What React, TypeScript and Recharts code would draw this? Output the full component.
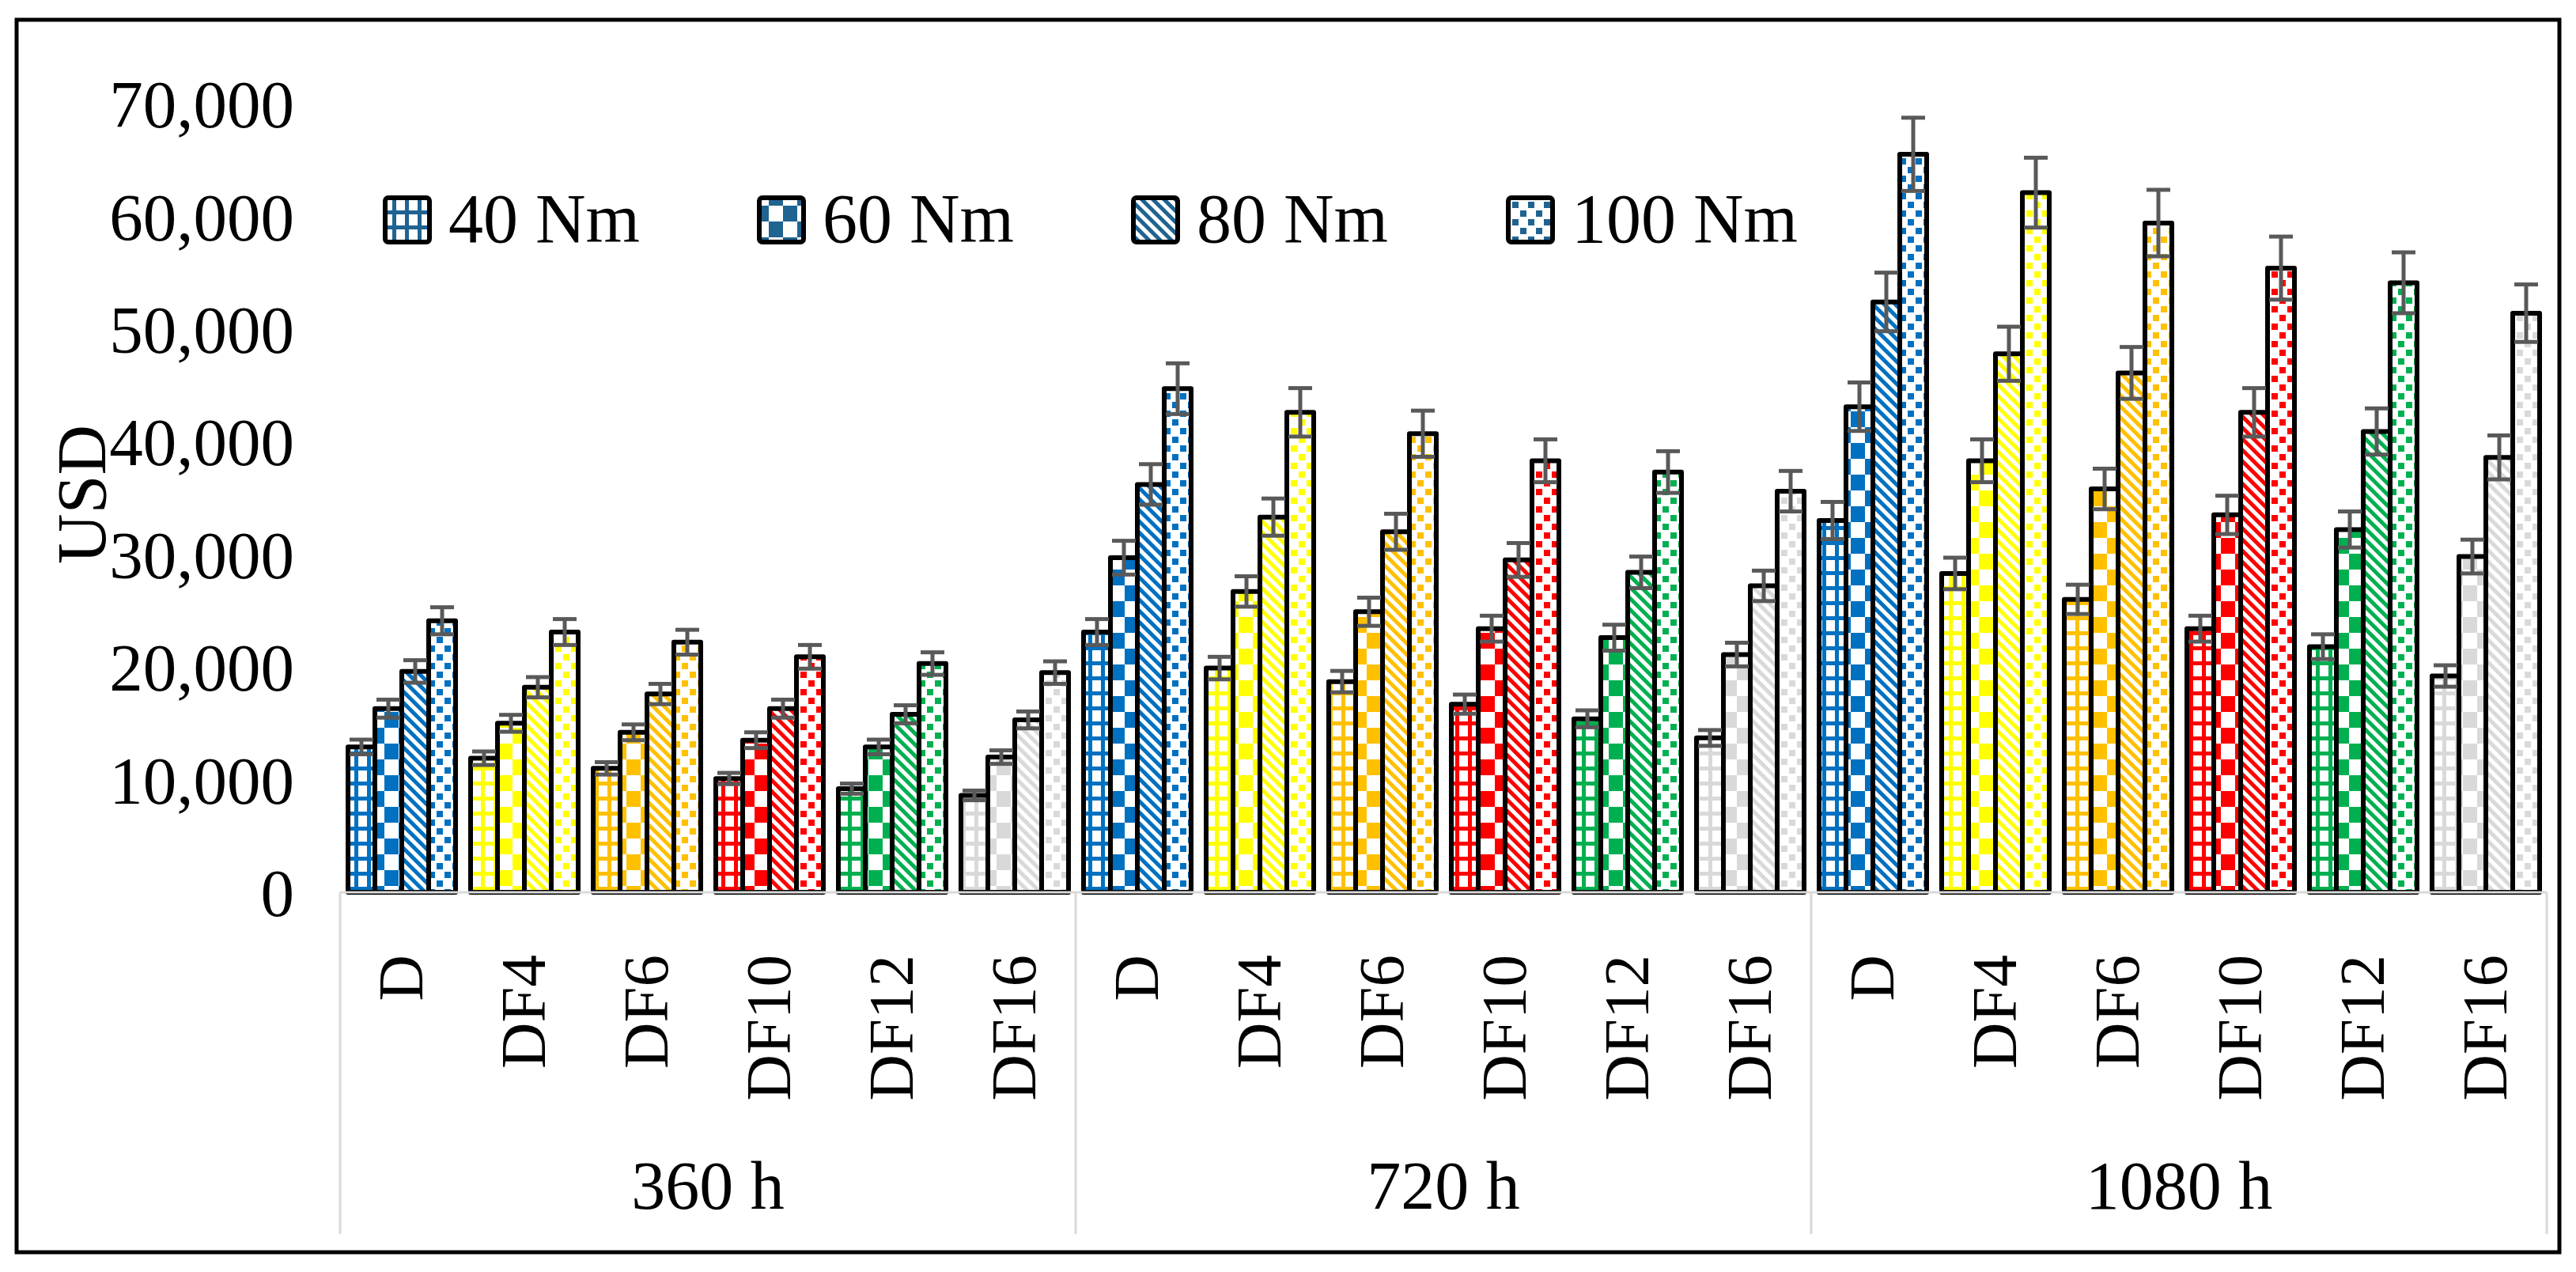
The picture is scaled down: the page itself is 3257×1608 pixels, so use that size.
import React from 'react';
import { BarChart, Bar, XAxis, YAxis, ErrorBar, Cell } from 'recharts';

const FONT = '"Liberation Serif", "Times New Roman", serif';
const W = 3257;
const H = 1608;

const GROUPS = ['360 h', '720 h', '1080 h'];
const MIXES = ['D', 'DF4', 'DF6', 'DF10', 'DF12', 'DF16'];
const MIX_COLORS = ['#0070C0', '#FFFF00', '#FFC000', '#FF0000', '#00B050', '#D9D9D9'];
const SERIES = ['40 Nm', '60 Nm', '80 Nm', '100 Nm'];
const SERIES_KEYS = ['v40', 'v60', 'v80', 'v100'];
const PATTERNS = ['grid', 'checker', 'diag', 'dots'];
const LEGEND_COLOR = '#1F6391';
const Y_TICKS = [0, 10000, 20000, 30000, 40000, 50000, 60000, 70000];

// values, 18 bars per series (360 h, 720 h, 1080 h x 6 mixes)
const V40 = [12900, 11900, 11000, 10100, 9200, 8600, 23100, 19900, 18700, 16700, 15400, 13700, 33000, 28300, 26000, 23400, 21800, 19200];
const V60 = [16300, 15000, 14200, 13500, 12900, 12000, 29700, 26700, 24900, 23400, 22600, 21100, 43100, 38300, 35800, 33500, 32200, 29800];
const V80 = [19600, 18200, 17600, 16300, 15800, 15300, 36200, 33300, 32000, 29500, 28400, 27200, 52400, 47800, 46100, 42600, 40900, 38600];
const V100 = [24100, 23100, 22200, 20900, 20300, 19500, 44700, 42600, 40700, 38300, 37300, 35600, 65500, 62100, 59400, 55400, 54100, 51400];

const E40 = [650, 600, 550, 500, 450, 430, 1150, 1000, 950, 850, 750, 700, 1650, 1400, 1300, 1150, 1100, 950];
const E60 = [800, 750, 700, 700, 650, 600, 1500, 1350, 1250, 1150, 1150, 1050, 2150, 1900, 1800, 1700, 1600, 1500];
const E80 = [1000, 900, 900, 800, 800, 750, 1800, 1650, 1600, 1500, 1400, 1350, 2600, 2400, 2300, 2150, 2050, 1950];
const E100 = [1200, 1150, 1100, 1050, 1000, 1000, 2250, 2150, 2050, 1900, 1850, 1800, 3250, 3100, 2950, 2800, 2700, 2550];

const rows = GROUPS.flatMap((group, g) =>
  MIXES.map((mix, m) => {
    const i = g * MIXES.length + m;
    return {
      id: `${group}-${mix}`,
      group,
      mix,
      colorIdx: m,
      v40: V40[i],
      v60: V60[i],
      v80: V80[i],
      v100: V100[i],
      e40: E40[i],
      e60: E60[i],
      e80: E80[i],
      e100: E100[i],
    };
  })
);

function patternDef(kind: string, color: string, id: string) {
  if (kind === 'grid') {
    return (
      <pattern key={id} id={id} width={16} height={19} patternUnits="userSpaceOnUse">
        <rect width={16} height={19} fill="#fff" />
        <rect x={0} y={0} width={16} height={5} fill={color} />
        <rect x={0} y={0} width={5} height={19} fill={color} />
      </pattern>
    );
  }
  if (kind === 'checker') {
    return (
      <pattern key={id} id={id} width={36} height={40} patternUnits="userSpaceOnUse">
        <rect width={36} height={40} fill="#fff" />
        <rect x={0} y={0} width={18} height={20} fill={color} />
        <rect x={18} y={20} width={18} height={20} fill={color} />
      </pattern>
    );
  }
  if (kind === 'diag') {
    return (
      <pattern key={id} id={id} width={10} height={10} patternUnits="userSpaceOnUse" patternTransform="rotate(-45)">
        <rect width={10} height={10} fill="#fff" />
        <rect x={0} y={0} width={5} height={10} fill={color} />
      </pattern>
    );
  }
  return (
    <pattern key={id} id={id} width={20} height={22} patternUnits="userSpaceOnUse">
      <rect width={20} height={22} fill="#fff" />
      <rect x={2} y={2} width={8} height={8} fill={color} />
      <rect x={12} y={13} width={8} height={8} fill={color} />
    </pattern>
  );
}

function CategoryTick(props: any) {
  const { x, y, payload } = props;
  const i = payload.index;
  const row = rows[i];
  const half = payload.offset > 0 ? payload.offset : 77.5;
  const perGroup = MIXES.length;
  return (
    <g>
      <text
        x={x}
        y={y + 79}
        transform={`rotate(-90, ${x}, ${y + 79})`}
        textAnchor="end"
        dy="0.33em"
        fontSize={81}
        fontFamily={FONT}
        fill="#000"
      >
        {row.mix}
      </text>
      {i % perGroup === 0 && (
        <line x1={x - half} x2={x - half} y1={y} y2={y + 432} stroke="#D9D9D9" strokeWidth={3} />
      )}
      {i === rows.length - 1 && (
        <line x1={x + half} x2={x + half} y1={y} y2={y + 432} stroke="#D9D9D9" strokeWidth={3} />
      )}
      {i % perGroup === 2 && (
        <text x={x + half} y={y + 400} textAnchor="middle" fontSize={86} fontFamily={FONT} fill="#000">
          {row.group}
        </text>
      )}
    </g>
  );
}

const LEGEND_X = [487, 960, 1433, 1907];

export default function App() {
  return (
    <div style={{ position: 'absolute', left: 0, top: 0, width: W, height: H, background: '#fff' }}>
      <BarChart
        width={W}
        height={H}
        data={rows}
        margin={{ top: 131, right: 37, bottom: 0, left: 0 }}
        barGap={0}
        barCategoryGap={10}
      >
        <defs>
          {MIX_COLORS.flatMap((c, ci) => PATTERNS.map((p, pi) => patternDef(p, c, `pat-${pi}-${ci}`)))}
        </defs>
        <XAxis
          dataKey="id"
          interval={0}
          height={480}
          tickLine={false}
          tickSize={0}
          tickMargin={0}
          axisLine={{ stroke: '#D9D9D9', strokeWidth: 3 }}
          tick={<CategoryTick />}
        />
        <YAxis
          width={430}
          domain={[0, 70000]}
          ticks={Y_TICKS}
          axisLine={false}
          tickLine={false}
          tickSize={0}
          tickMargin={58}
          tick={{ fill: '#000', fontSize: 85, fontFamily: FONT }}
          tickFormatter={(v: number) => v.toLocaleString('en-US')}
        />
        {SERIES_KEYS.map((key, si) => (
          <Bar
            key={key}
            dataKey={key}
            name={SERIES[si]}
            stroke="#000"
            strokeWidth={6}
            strokeLinejoin="round"
            isAnimationActive={false}
          >
            {rows.map((r) => (
              <Cell key={r.id} fill={`url(#pat-${si}-${r.colorIdx})`} />
            ))}
            <ErrorBar
              dataKey={`e${key.slice(1)}`}
              width={15}
              stroke="#595959"
              strokeWidth={5}
              direction="y"
            />
          </Bar>
        ))}
      </BarChart>

      <svg
        width={W}
        height={H}
        style={{ position: 'absolute', left: 0, top: 0, pointerEvents: 'none' }}
      >
        <defs>
          {PATTERNS.map((p, pi) => patternDef(p, LEGEND_COLOR, `leg-${pi}`))}
        </defs>
        {SERIES.map((s, si) => (
          <g key={s}>
            <rect
              x={LEGEND_X[si]}
              y={250}
              width={56}
              height={56}
              rx={4}
              fill={`url(#leg-${si})`}
              stroke="#000"
              strokeWidth={6}
            />
            <text x={LEGEND_X[si] + 80} y={306} fontSize={88} fontFamily={FONT} fill="#000">
              {s}
            </text>
          </g>
        ))}
        <text
          x={104}
          y={625}
          transform="rotate(-90, 104, 625)"
          textAnchor="middle"
          dy="0.33em"
          fontSize={88}
          fontFamily={FONT}
          fill="#000"
        >
          USD
        </text>
        <rect x={21} y={25} width={3215} height={1558} fill="none" stroke="#000" strokeWidth={5} />
      </svg>
    </div>
  );
}
